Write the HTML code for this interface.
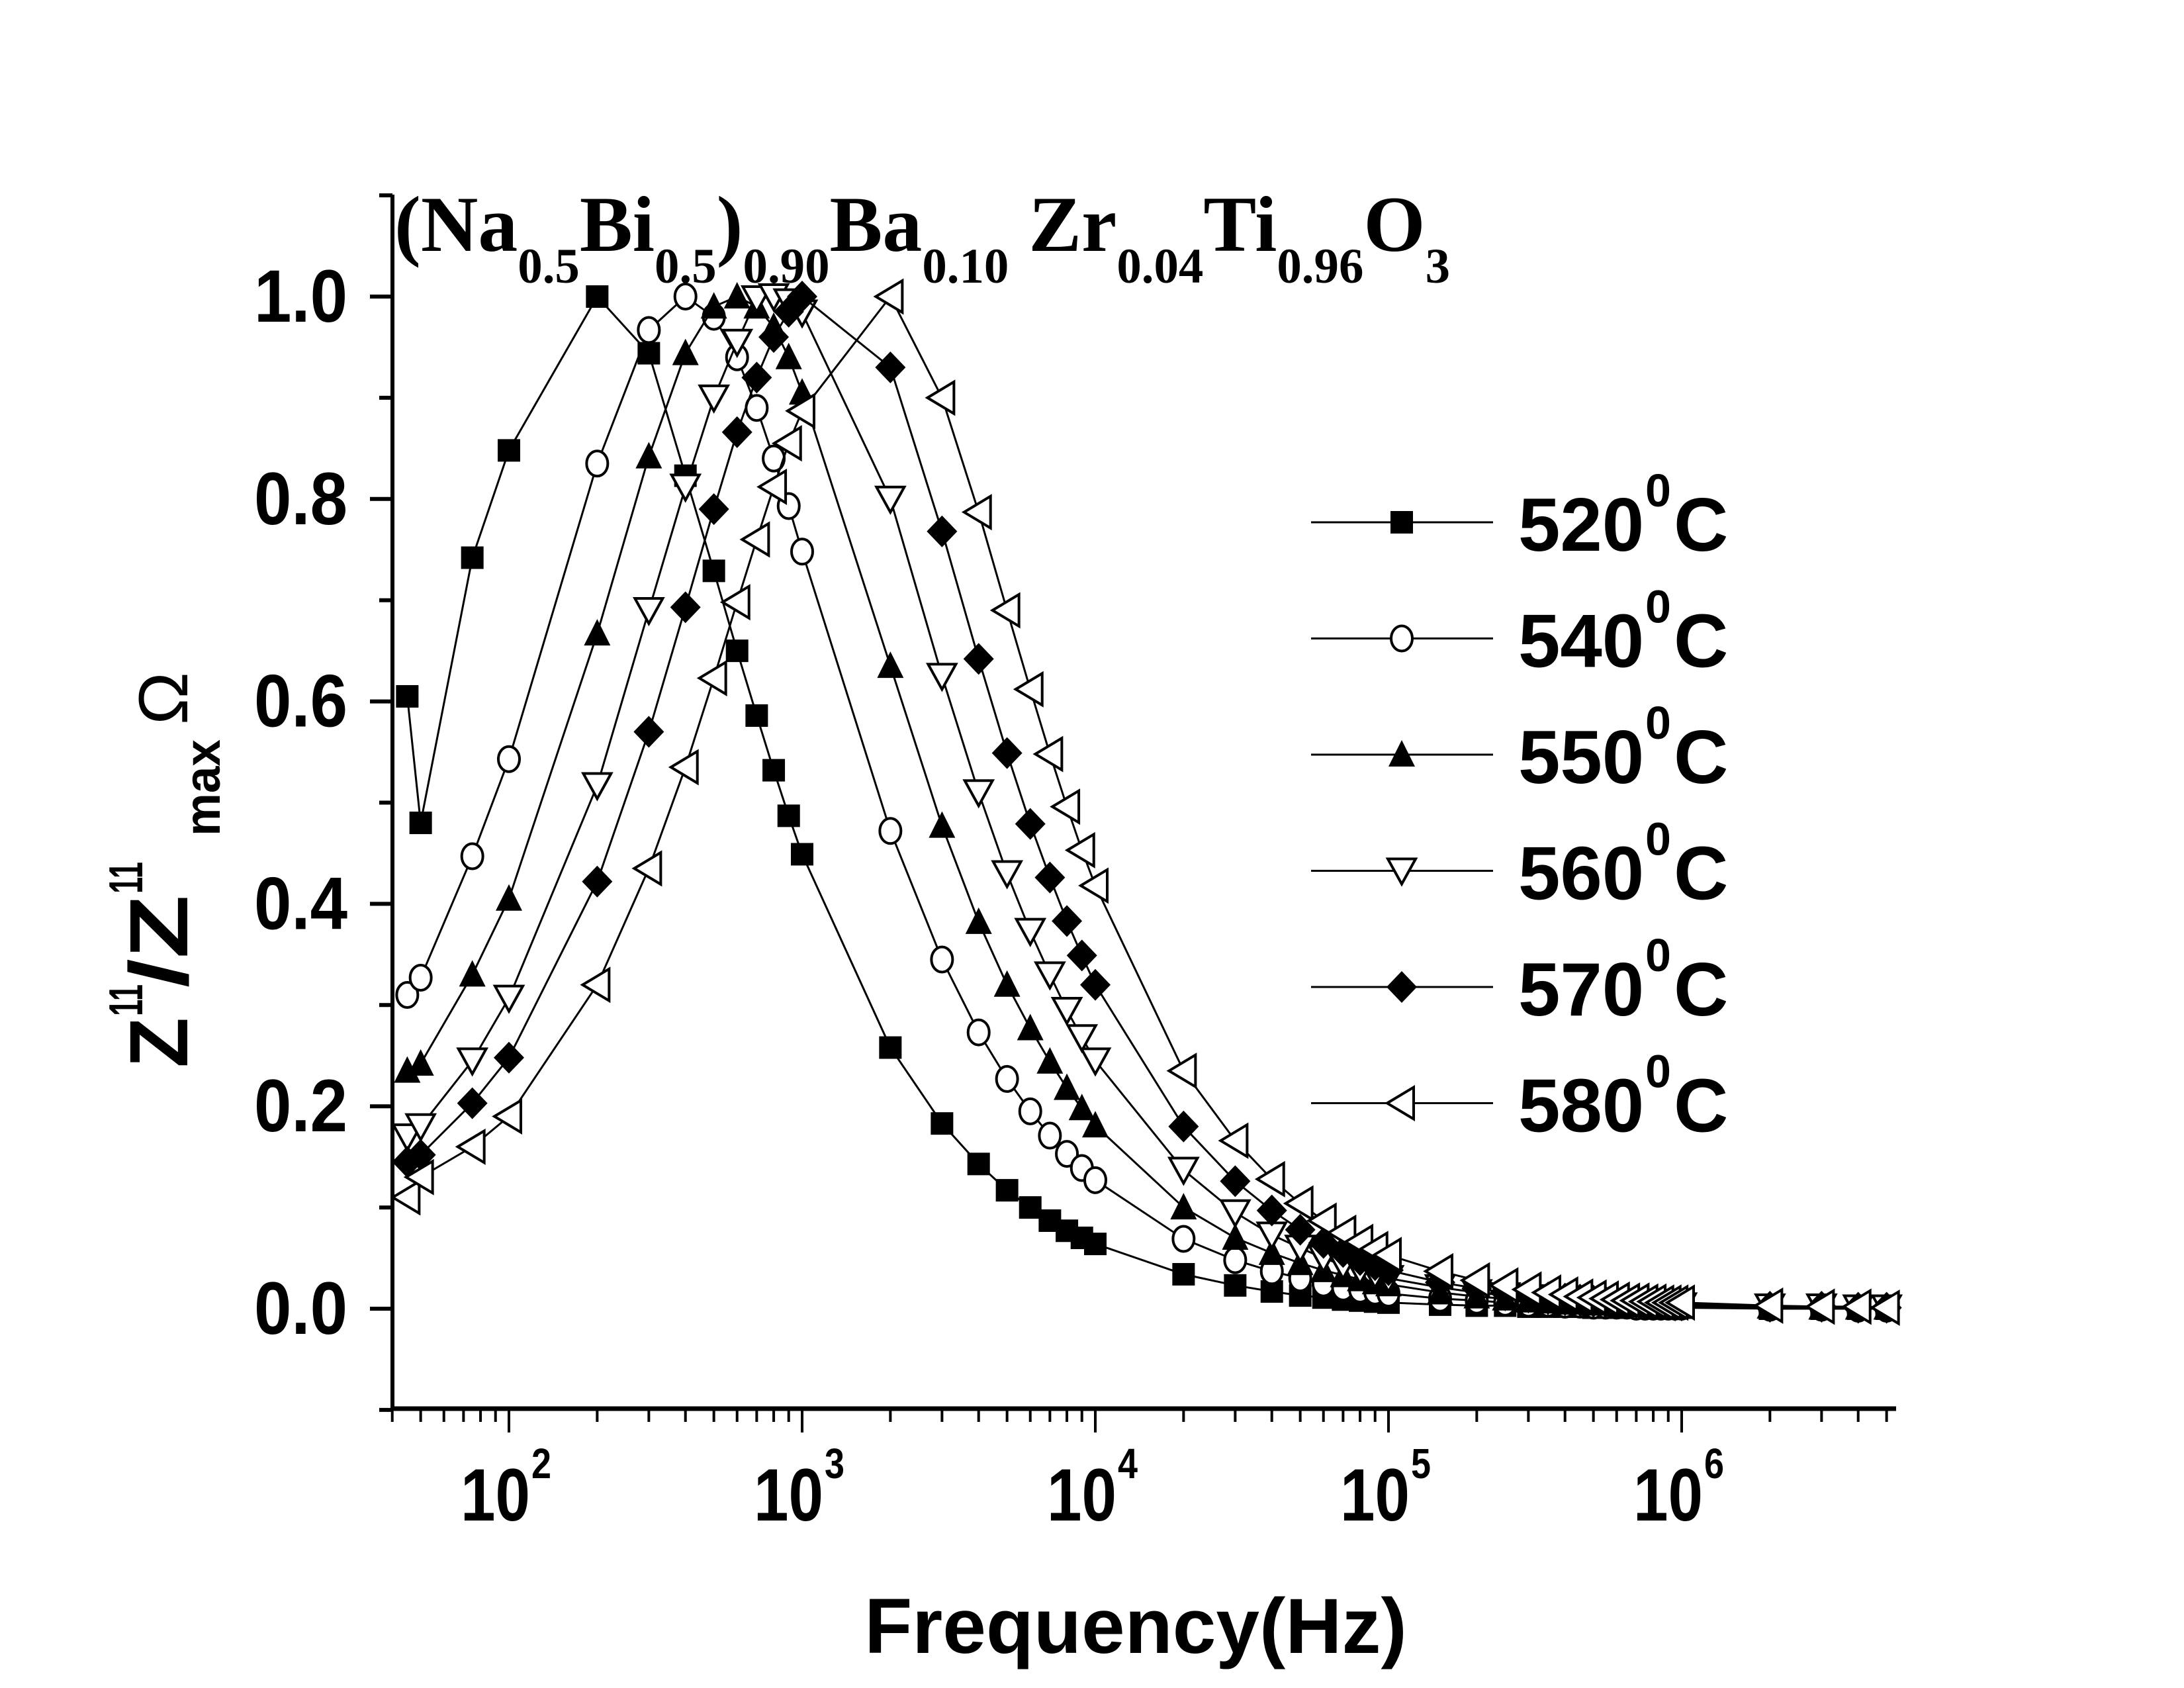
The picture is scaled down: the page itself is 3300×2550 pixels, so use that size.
<!DOCTYPE html>
<html><head><meta charset="utf-8"><style>
html,body{margin:0;padding:0;background:#fff;}
svg{display:block;}
text{font-family:"Liberation Sans",Arial,sans-serif;font-weight:bold;fill:#000;}
.serif{font-family:"Liberation Serif","Times New Roman",serif;}
</style></head><body>
<svg id="chart" width="3300" height="2550" viewBox="0 0 3300 2550" xmlns="http://www.w3.org/2000/svg">
<g id="axes"></g>
<g id="series"></g>
<g id="legend"></g>
<text class="serif" x="596" y="379" font-size="120" textLength="1595" lengthAdjust="spacingAndGlyphs">(Na<tspan font-size="75" dy="48">0.5</tspan><tspan dy="-48">Bi</tspan><tspan font-size="75" dy="48">0.5</tspan><tspan dy="-48">)</tspan><tspan font-size="75" dy="48">0.90</tspan><tspan dy="-48">Ba</tspan><tspan font-size="75" dy="48">0.10</tspan><tspan dy="-48"> Zr</tspan><tspan font-size="75" dy="48">0.04</tspan><tspan dy="-48">Ti</tspan><tspan font-size="75" dy="48">0.96</tspan><tspan dy="-48">O</tspan><tspan font-size="75" dy="48">3</tspan></text>
<text x="1716" y="2497" font-size="118" text-anchor="middle">Frequency(Hz)</text>
<g transform="translate(283,0) rotate(-90)">
<text x="-1613" y="0" font-size="125" textLength="76" lengthAdjust="spacingAndGlyphs">Z</text>
<text x="-1535" y="-68" font-size="72" textLength="48" lengthAdjust="spacingAndGlyphs">11</text>
<text x="-1492" y="0" font-size="125" textLength="140" lengthAdjust="spacingAndGlyphs">/Z</text>
<text x="-1350" y="-68" font-size="72" textLength="48" lengthAdjust="spacingAndGlyphs">11</text>
<text x="-1263" y="49" font-size="76" textLength="146" lengthAdjust="spacingAndGlyphs">max</text>
<text x="-1095" y="0" font-size="105" style="font-weight:normal" textLength="80" lengthAdjust="spacingAndGlyphs">Ω</text>
</g>
</svg>
<script>
const freqs = [45,50,75,100,200,300,400,500,600,700,800,900,1000,2000,3000,4000,5000,6000,7000,8000,9000,10000,20000,30000,40000,50000,60000,70000,80000,90000,100000,150000,200000,250000,300000,350000,400000,450000,500000,550000,600000,650000,700000,750000,800000,850000,900000,950000,1000000,2000000,3000000,4000000,5000000];
const s520 = [0.605,0.48,0.742,0.848,1.0,0.944,0.823,0.729,0.65,0.586,0.532,0.487,0.449,0.258,0.183,0.143,0.117,0.1,0.087,0.077,0.07,0.064,0.034,0.023,0.017,0.013,0.011,0.009,0.008,0.007,0.006,0.004,0.003,0.003,0.002,0.002,0.002,0.002,0.001,0.001,0.001,0.001,0.001,0.001,0.001,0.001,0.001,0.001,0.001,0,0,0,0];
const s540 = [0.31,0.327,0.447,0.543,0.835,0.967,1.0,0.98,0.94,0.89,0.84,0.793,0.748,0.472,0.345,0.273,0.227,0.195,0.171,0.153,0.139,0.127,0.069,0.048,0.037,0.030,0.025,0.021,0.019,0.017,0.015,0.010,0.008,0.006,0.005,0.005,0.004,0.004,0.003,0.003,0.003,0.003,0.002,0.002,0.002,0.002,0.002,0.002,0.002,0.001,0.001,0,0];
const s550 = [0.235,0.242,0.33,0.405,0.667,0.842,0.944,0.99,1.0,0.99,0.97,0.94,0.905,0.635,0.477,0.382,0.32,0.277,0.244,0.218,0.198,0.181,0.1,0.07,0.055,0.045,0.038,0.033,0.029,0.026,0.024,0.016,0.012,0.010,0.008,0.007,0.006,0.006,0.005,0.005,0.004,0.004,0.004,0.003,0.003,0.003,0.003,0.003,0.003,0.002,0.001,0.001,0.001];
const s560 = [0.17,0.18,0.245,0.307,0.517,0.69,0.812,0.9,0.955,0.998,1.0,0.995,0.984,0.8,0.625,0.51,0.43,0.373,0.33,0.295,0.268,0.245,0.137,0.095,0.073,0.06,0.05,0.043,0.038,0.034,0.03,0.021,0.016,0.013,0.011,0.009,0.008,0.007,0.006,0.006,0.005,0.005,0.005,0.004,0.004,0.004,0.004,0.003,0.003,0.002,0.002,0.001,0.001];
const s570 = [0.145,0.152,0.203,0.248,0.422,0.57,0.693,0.79,0.866,0.92,0.96,0.985,1.0,0.93,0.768,0.642,0.549,0.479,0.426,0.383,0.349,0.32,0.18,0.126,0.097,0.078,0.065,0.056,0.048,0.043,0.038,0.026,0.020,0.016,0.013,0.011,0.010,0.009,0.008,0.007,0.007,0.006,0.006,0.005,0.005,0.005,0.004,0.004,0.004,0.002,0.002,0.001,0.001];
const s580 = [0.11,0.13,0.16,0.19,0.32,0.435,0.535,0.623,0.698,0.76,0.812,0.855,0.887,1.0,0.9,0.787,0.69,0.612,0.548,0.496,0.453,0.418,0.235,0.166,0.128,0.104,0.087,0.075,0.066,0.059,0.053,0.037,0.028,0.023,0.019,0.016,0.014,0.012,0.011,0.010,0.009,0.008,0.008,0.007,0.007,0.006,0.006,0.006,0.006,0.003,0.002,0.002,0.001];
const seriesLabels = ["520","540","550","560","570","580"];
const markerTypes = ["square","circle","up","down","diamond","left"];
const yTicks = [0.0,0.2,0.4,0.6,0.8,1.0];
const yTickLabels = ["0.0","0.2","0.4","0.6","0.8","1.0"];
const xDecades = [2,3,4,5,6];

const NS="http://www.w3.org/2000/svg";
const X0=593,X1=2865,Y0=2128,YT=294;
function xs(f){return 769+443*(Math.log10(f)-2);}
function ys(v){return 1977-1529*v;}
function mk(tag,attrs,parent){const e=document.createElementNS(NS,tag);for(const k in attrs)e.setAttribute(k,attrs[k]);parent.appendChild(e);return e;}

const axes=document.getElementById('axes');
let e=mk('line',{x1:X0,y1:YT,x2:X0,y2:Y0+3,stroke:'#000','stroke-width':6},axes);


e=mk('line',{x1:X0-3,y1:Y0,x2:X1,y2:Y0,stroke:'#000','stroke-width':7},axes);


for(let v=-0.1;v<=1.101;v+=0.1){
  const major=Math.abs(Math.round(v*10)%2)===0;
  e=mk('line',{x1:X0-(major?34:20),y1:ys(v),x2:X0,y2:ys(v),stroke:'#000','stroke-width':6},axes);
  
  
}
yTicks.forEach((v,i)=>{
  e=mk('text',{x:384,y:ys(v)+38,'font-size':112,textLength:141,lengthAdjust:'spacingAndGlyphs'},axes);
  e.textContent=yTickLabels[i];
  
  
});
for(let d=1;d<=6;d++){for(let m=1;m<=9;m++){
  const f=m*Math.pow(10,d);const x=xs(f);
  if(x<X0-1||x>X1+1)continue;
  e=mk('line',{x1:x,y1:Y0,x2:x,y2:Y0+(m===1?36:20),stroke:'#000','stroke-width':4},axes);
  
  
}}
xDecades.forEach(d=>{
  const x=xs(Math.pow(10,d));
  e=mk('text',{x:x-73,y:2297,'font-size':112,textLength:105,lengthAdjust:'spacingAndGlyphs'},axes);
  e.textContent='10';
  
  
  const s=mk('text',{x:x+34,y:2233,'font-size':64,textLength:30,lengthAdjust:'spacingAndGlyphs'},axes);
  s.textContent=String(d);
  
  
});

function marker(type,x,y,parent){
  let el;
  const st={stroke:'#000','stroke-width':4};
  if(type==='square')el=mk('rect',{x:x-17,y:y-17,width:34,height:34,fill:'#000'},parent);
  else if(type==='circle')el=mk('ellipse',{cx:x,cy:y,rx:16,ry:19,fill:'#fff',...st},parent);
  else if(type==='up')el=mk('polygon',{points:`${x},${y-22} ${x+20},${y+18} ${x-20},${y+18}`,fill:'#000'},parent);
  else if(type==='down')el=mk('polygon',{points:`${x-21},${y-18} ${x+21},${y-18} ${x},${y+20}`,fill:'#fff',...st},parent);
  else if(type==='diamond')el=mk('polygon',{points:`${x},${y-24} ${x+23},${y} ${x},${y+24} ${x-23},${y}`,fill:'#000'},parent);
  else el=mk('polygon',{points:`${x-22},${y} ${x+18},${y-24} ${x+18},${y+24}`,fill:'#fff',...st},parent);
  return el;
}

const allSeries=[s520,s540,s550,s560,s570,s580];
const sg=document.getElementById('series');
allSeries.forEach((vals,si)=>{
  const g=mk('g',{},sg);
  
  
  const pts=freqs.map((f,i)=>xs(f).toFixed(1)+','+ys(vals[i]).toFixed(1)).join(' ');
  const pl=mk('polyline',{points:pts,fill:'none',stroke:'#000','stroke-width':3},g);
  
  
  freqs.forEach((f,i)=>{
    const m=marker(markerTypes[si],xs(f),ys(vals[i]),g);
    
    
  });
});

const lg=document.getElementById('legend');
seriesLabels.forEach((lab,i)=>{
  const y=789+175.5*i;
  const g=mk('g',{},lg);
  
  
  mk('line',{x1:1981,y1:y,x2:2256,y2:y,stroke:'#000','stroke-width':3},g);
  marker(markerTypes[i],2118,y,g);
  const t=mk('text',{x:2294,y:y+43,'font-size':114},g);
  t.textContent=lab;
  const s=mk('text',{x:2486,y:y-24,'font-size':70},g);
  s.textContent='0';
  const c=mk('text',{x:2529,y:y+43,'font-size':114},g);
  c.textContent='C';
});
</script>
</body></html>
